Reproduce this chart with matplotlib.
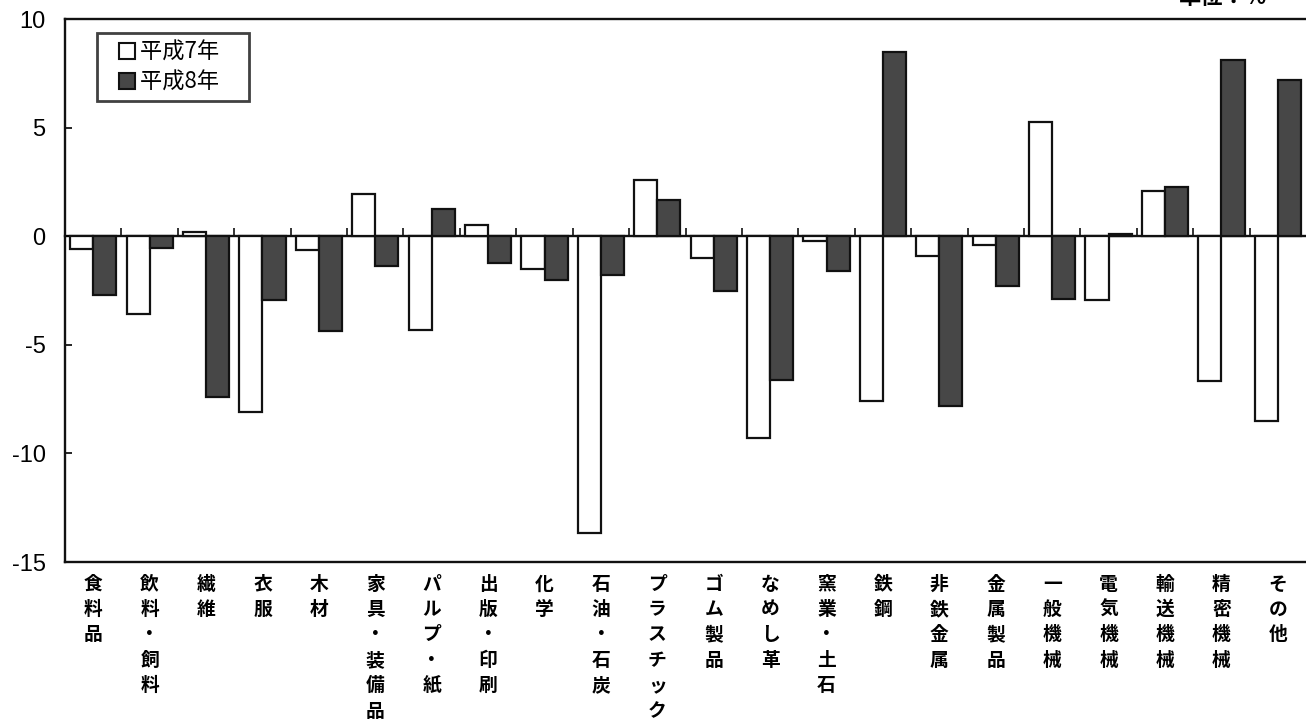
import numpy as np
import matplotlib
matplotlib.use("Agg")
import matplotlib.pyplot as plt
from matplotlib.lines import Line2D

plt.rcParams['font.family'] = ['Noto Sans CJK JP', 'DejaVu Sans']
plt.rcParams['axes.unicode_minus'] = False

# data (unit: %)
categories = ['食料品', '飲料・飼料', '繊維', '衣服', '木材', '家具・装備品', 'パルプ・紙',
              '出版・印刷', '化学', '石油・石炭', 'プラスチック', 'ゴム製品', 'なめし革',
              '窯業・土石', '鉄鋼', '非鉄金属', '金属製品', '一般機械', '電気機械',
              '輸送機械', '精密機械', 'その他']
h7 = [-0.6, -3.6, 0.2, -8.1, -0.65, 1.95, -4.3, 0.5, -1.5, -13.65, 2.6,
      -1.0, -9.3, -0.2, -7.6, -0.92, -0.4, 5.28, -2.94, 2.1, -6.65, -8.5]
h8 = [-2.7, -0.55, -7.4, -2.93, -4.35, -1.35, 1.25, -1.25, -2.0, -1.8, 1.68,
      -2.5, -6.6, -1.6, 8.5, -7.8, -2.3, -2.9, 0.1, 2.28, 8.1, 7.2]
series_names = ['平成7年', '平成8年']
yticks = [10, 5, 0, -5, -10, -15]

fig = plt.figure(figsize=(13.06, 7.21), dpi=100)
ax = fig.add_axes([0.0498, 0.2205, 0.9502, 0.7531])

x = np.arange(len(categories)) + 0.5
w = 0.41
dark = '#474747'
ax.bar(x - w / 2, h7, w, facecolor='white', edgecolor='#111111', linewidth=1.6, zorder=2)
ax.bar(x + w / 2, h8, w, facecolor=dark, edgecolor='#111111', linewidth=1.6, zorder=2)

ax.set_xlim(0, len(categories))
ax.set_ylim(-15, 10)
ax.set_yticks(yticks)
ax.set_yticklabels([str(v) for v in yticks], fontfamily='Liberation Sans', fontsize=17)
ax.tick_params(axis='y', direction='in', length=5, width=1.2, pad=14)

# vertical stacked labels
labels = ['\n'.join(list(c)) for c in categories]
ax.set_xticks(x)
ax.set_xticklabels(labels, fontsize=13.5, fontweight='bold', linespacing=1.43, va='top')
ax.tick_params(axis='x', length=0, pad=9)

for s in ['left', 'top', 'bottom']:
    ax.spines[s].set_linewidth(1.7)
    ax.spines[s].set_color('#111111')
ax.spines['right'].set_visible(False)

# zero line with small boundary ticks
zero = ax.secondary_xaxis(0.6)
zero.set_xticks(np.arange(1, len(categories)))
zero.set_xticklabels([])
zero.tick_params(direction='out', length=6, width=1.2, color='#111111')
for s in ['top', 'bottom']:
    zero.spines[s].set_linewidth(1.7)
    zero.spines[s].set_color('#111111')

handles = [Line2D([], [], linestyle='none', marker='s', markersize=12,
                  markerfacecolor='white', markeredgecolor='#111111', markeredgewidth=1.5),
           Line2D([], [], linestyle='none', marker='s', markersize=12,
                  markerfacecolor=dark, markeredgecolor='#111111', markeredgewidth=1.5)]
leg = ax.legend(handles, [s + '\u3000' for s in series_names], loc='upper left',
                bbox_to_anchor=(0.026, 0.974), fontsize=16, frameon=True, fancybox=False,
                handlelength=2.0, handletextpad=-0.45, borderpad=0.35, labelspacing=0.3,
                borderaxespad=0)
leg.get_frame().set_edgecolor('#111111')
leg.get_frame().set_linewidth(2.0)

# unit label, partly above the top edge as in the source scan
fig.text(1223, 721 - 9, '単位：%', transform=None, fontsize=16, fontweight='bold',
         ha='center', va='bottom')

fig.savefig('out.png', dpi=100)
